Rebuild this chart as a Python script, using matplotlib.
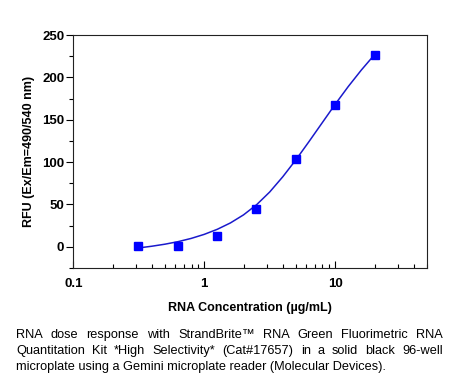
import numpy as np
import matplotlib
matplotlib.use('Agg')
import matplotlib.pyplot as plt
from matplotlib.ticker import LogLocator, MultipleLocator, FixedLocator, FixedFormatter, NullFormatter

# measured points
conc = [0.3125, 0.625, 1.25, 2.5, 5, 10, 20]
rfu = [1.0, 1.5, 13.0, 44.3, 103.9, 167.7, 226.4]

# fitted curve
fit_x = [0.316, 0.398, 0.501, 0.631, 0.794, 1.0, 1.259, 1.585, 1.995, 2.512,
         3.162, 3.981, 5.012, 6.310, 7.943, 10.0, 12.59, 15.85, 19.95]
fit_y = [-1.3, 0.7, 3.1, 6.1, 9.9, 14.7, 20.7, 28.2, 37.7, 49.7,
         64.7, 82.7, 102.7, 124.2, 146.2, 168.2, 189.2, 208.7, 226.7]

xticks = [0.1, 1, 10]
xticklabels = ['0.1', '1', '10']
yticks = [0, 50, 100, 150, 200, 250]

caption_lines = [
    "RNA dose response with StrandBrite\u2122 RNA Green Fluorimetric RNA",
    "Quantitation Kit *High Selectivity* (Cat#17657) in a solid black 96-well",
    "microplate using a Gemini microplate reader (Molecular Devices).",
]

plt.rcParams['font.family'] = ['Liberation Sans', 'DejaVu Sans']

W, H = 453, 384
fig = plt.figure(figsize=(W / 100, H / 100), dpi=100, facecolor='w')
ax = fig.add_axes([73.3 / W, 1 - 268 / H, (426.7 - 73.3) / W, (268 - 35) / H])

ax.plot(fit_x, fit_y, color='#1a1acc', lw=1.1, zorder=2)
ax.plot(conc, rfu, 's', color='#0000ff', ms=5.5, mec='#0000ff', zorder=3)

ax.set_xscale('log')
ax.set_xlim(0.1, 50)
ax.set_ylim(-25, 250)

ax.xaxis.set_major_locator(FixedLocator(xticks))
ax.xaxis.set_major_formatter(FixedFormatter(xticklabels))
ax.xaxis.set_minor_locator(LogLocator(base=10, subs=np.arange(2, 10)))
ax.xaxis.set_minor_formatter(NullFormatter())
ax.yaxis.set_major_locator(FixedLocator(yticks))
ax.yaxis.set_minor_locator(MultipleLocator(25))

ax.tick_params(axis='x', which='major', direction='in', length=5, width=0.8, pad=7)
ax.tick_params(axis='x', which='minor', direction='in', length=3, width=0.8)
ax.tick_params(axis='y', which='major', direction='out', length=5, width=0.8, pad=1.5)
ax.tick_params(axis='y', which='minor', direction='out', length=3, width=0.8)
for lab in ax.get_xticklabels() + ax.get_yticklabels():
    lab.set_fontweight('bold')
    lab.set_fontsize(9.5)
for s in ax.spines.values():
    s.set_linewidth(0.8)
    s.set_color('#222222')

ax.set_xlabel('RNA Concentration (\u00b5g/mL)', fontsize=9, fontweight='bold', labelpad=9)
ax.set_ylabel('RFU (Ex/Em=490/540 nm)', fontsize=9, fontweight='bold', labelpad=5)

# justified caption
fig.canvas.draw()
renderer = fig.canvas.get_renderer()
left, right = 16, 443
line_y = [335, 351, 367]
fs = 9.2
for i, line in enumerate(caption_lines):
    words = line.split(' ')
    y = 1 - line_y[i] / H
    if i == len(caption_lines) - 1:
        fig.text(left / W, y, line, fontsize=fs, va='center', ha='left')
        continue
    texts = [fig.text(0, y, w, fontsize=fs, va='center', ha='left') for w in words]
    widths = [t.get_window_extent(renderer).width for t in texts]
    gap = (right - left - sum(widths)) / (len(words) - 1)
    xpos = left
    for t, w in zip(texts, widths):
        t.set_x(xpos / W)
        xpos += w + gap

fig.savefig('out.png', dpi=100)
